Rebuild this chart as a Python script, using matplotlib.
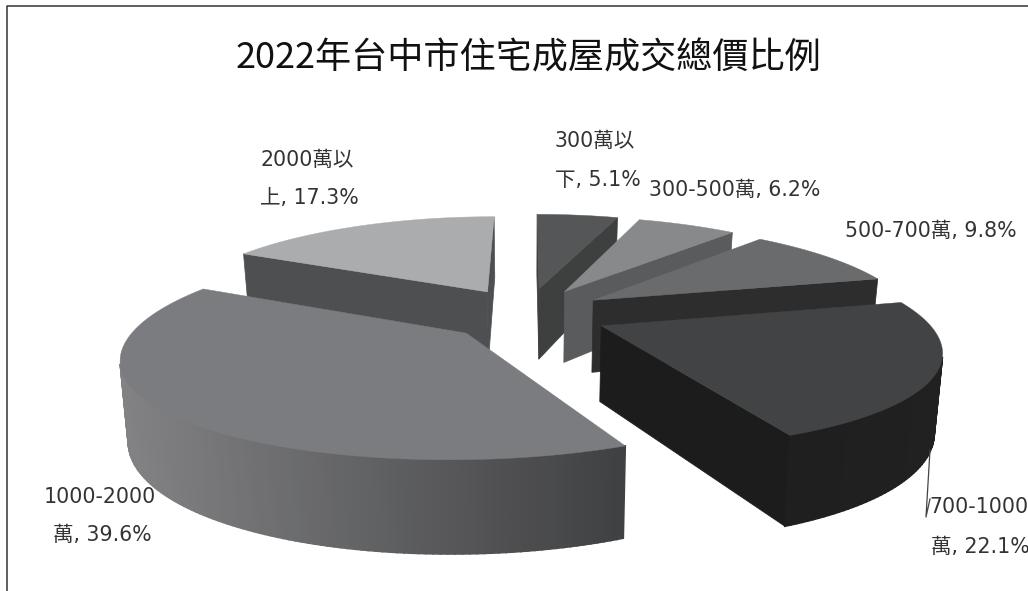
import matplotlib
matplotlib.use("Agg")
import matplotlib.pyplot as plt
import numpy as np

plt.rcParams["font.family"] = ["Noto Sans CJK TC", "DejaVu Sans"]

TITLE = "2022年台中市住宅成屋成交總價比例"
bands = ["300萬以下", "300-500萬", "500-700萬", "700-1000萬", "1000-2000萬", "2000萬以上"]
shares = [5.1, 6.2, 9.8, 22.1, 39.6, 17.3]
label_lines = [
    ["300萬以", "下, {:.1f}%"],
    ["300-500萬, {:.1f}%"],
    ["500-700萬, {:.1f}%"],
    ["700-1000", "萬, {:.1f}%"],
    ["1000-2000", "萬, {:.1f}%"],
    ["2000萬以", "上, {:.1f}%"],
]

# left edge and vertical centre of each label line, in pixels
label_pos = [
    [(555, 141), (555, 180)],
    [(649, 190)],
    [(845, 231)],
    [(929, 507), (931, 547)],
    [(44, 497), (53, 535)],
    [(260, 160), (260, 198)],
]

# slice styles: top face, side walls, outer wall at its left and right end
top_colors = ["#555658", "#88898b", "#6a6b6d", "#424345", "#7b7c7f", "#abacae"]
wall_colors = ["#3e3f3f", "#595b5d", "#2d2d2d", "#1c1c1c", "#3f4041", "#4e4f51"]
rim_colors = [("#3e3f3f", "#3e3f3f"), ("#595b5d", "#595b5d"), ("#2d2d2d", "#2d2d2d"),
              ("#1c1c1c", "#212121"), ("#838385", "#3f4041"), ("#77787a", "#4e4f51")]
draw_order = [0, 1, 2, 5, 3, 4]

# camera for the tilted pie
CX, CY = 527.0, 314.0
FOCAL_X, FOCAL_Y = 321.0, 96.0
PERSPECTIVE_X, PERSPECTIVE_Y = 0.21, 0.18
EXPLODE_U, EXPLODE_V = 0.25, 0.28
THICKNESS = 74.0
BOTTOM_SHRINK = 0.98


def project(u, v):
    return CX + FOCAL_X * u / (1.0 + PERSPECTIVE_X * v), CY - FOCAL_Y * v / (1.0 + PERSPECTIVE_Y * v)


def drop(x, y, v):
    return CX + BOTTOM_SHRINK * (x - CX), y + THICKNESS / (1.0 + PERSPECTIVE_Y * v)


def hex_mix(c1, c2, t):
    a = np.array(matplotlib.colors.to_rgb(c1))
    b = np.array(matplotlib.colors.to_rgb(c2))
    return tuple(a + (b - a) * t)


def draw_slice(ax, start, stop, top_c, wall_c, rim_c):
    mid = np.radians((start + stop) / 2)
    du, dv = EXPLODE_U * np.sin(mid), EXPLODE_V * np.cos(mid)
    theta = np.radians(np.linspace(start, stop, max(int(stop - start), 4) + 1))
    u = np.concatenate([[du], du + np.sin(theta)])
    v = np.concatenate([[dv], dv + np.cos(theta)])
    x, y = project(u, v)
    xb, yb = drop(x, y, v)

    # boundary runs clockwise seen from above, so visible quads have negative area
    n = len(x)
    rim_quads = []
    for i in range(n):
        j = (i + 1) % n
        qx = [x[i], x[j], xb[j], xb[i]]
        qy = [y[i], y[j], yb[j], yb[i]]
        area = sum(qx[k] * qy[(k + 1) % 4] - qx[(k + 1) % 4] * qy[k] for k in range(4))
        if area >= 0:
            continue
        if i == 0 or j == 0:
            ax.fill(qx, qy, color=wall_c, lw=0.5, zorder=2)
        else:
            rim_quads.append((qx, qy))
    for qx, qy in rim_quads:
        t = (np.mean(qx) - x.min()) / (x.max() - x.min())
        col = hex_mix(rim_c[0], rim_c[1], t)
        ax.fill(qx, qy, color=col, lw=1.2, zorder=2)
    ax.fill(x, y, color=top_c, lw=0.3, zorder=2)


fig = plt.figure(figsize=(10.28, 5.91), dpi=100)
ax = fig.add_axes([0, 0, 1, 1])
ax.set_xlim(0, 1028)
ax.set_ylim(591, 0)
ax.axis("off")

edges = np.concatenate([[0], np.cumsum(shares)]) / np.sum(shares) * 360.0
for idx in draw_order:
    draw_slice(ax, edges[idx], edges[idx + 1], top_colors[idx], wall_colors[idx], rim_colors[idx])

# chart frame, open on the right and at the bottom
ax.plot([7, 7, 1028], [591, 5.5, 5.5], color="#333333", lw=1.1, zorder=1)

ax.text(528, 58, TITLE, fontsize=26, color="#111111", ha="center", va="center")

for share, lines, positions in zip(shares, label_lines, label_pos):
    for line, (lx, ly) in zip(lines, positions):
        ax.text(lx, ly, line.format(share), fontsize=14.8, color="#333333",
                family=["DejaVu Sans", "Noto Sans CJK TC"],
                ha="left", va="center", clip_on=True)

# leader line for the 700-1000 label
ax.plot([930, 926, 930], [450, 517, 499], color="#444444", lw=0.9, zorder=3)

fig.savefig("out.png", dpi=100)
plt.close(fig)
